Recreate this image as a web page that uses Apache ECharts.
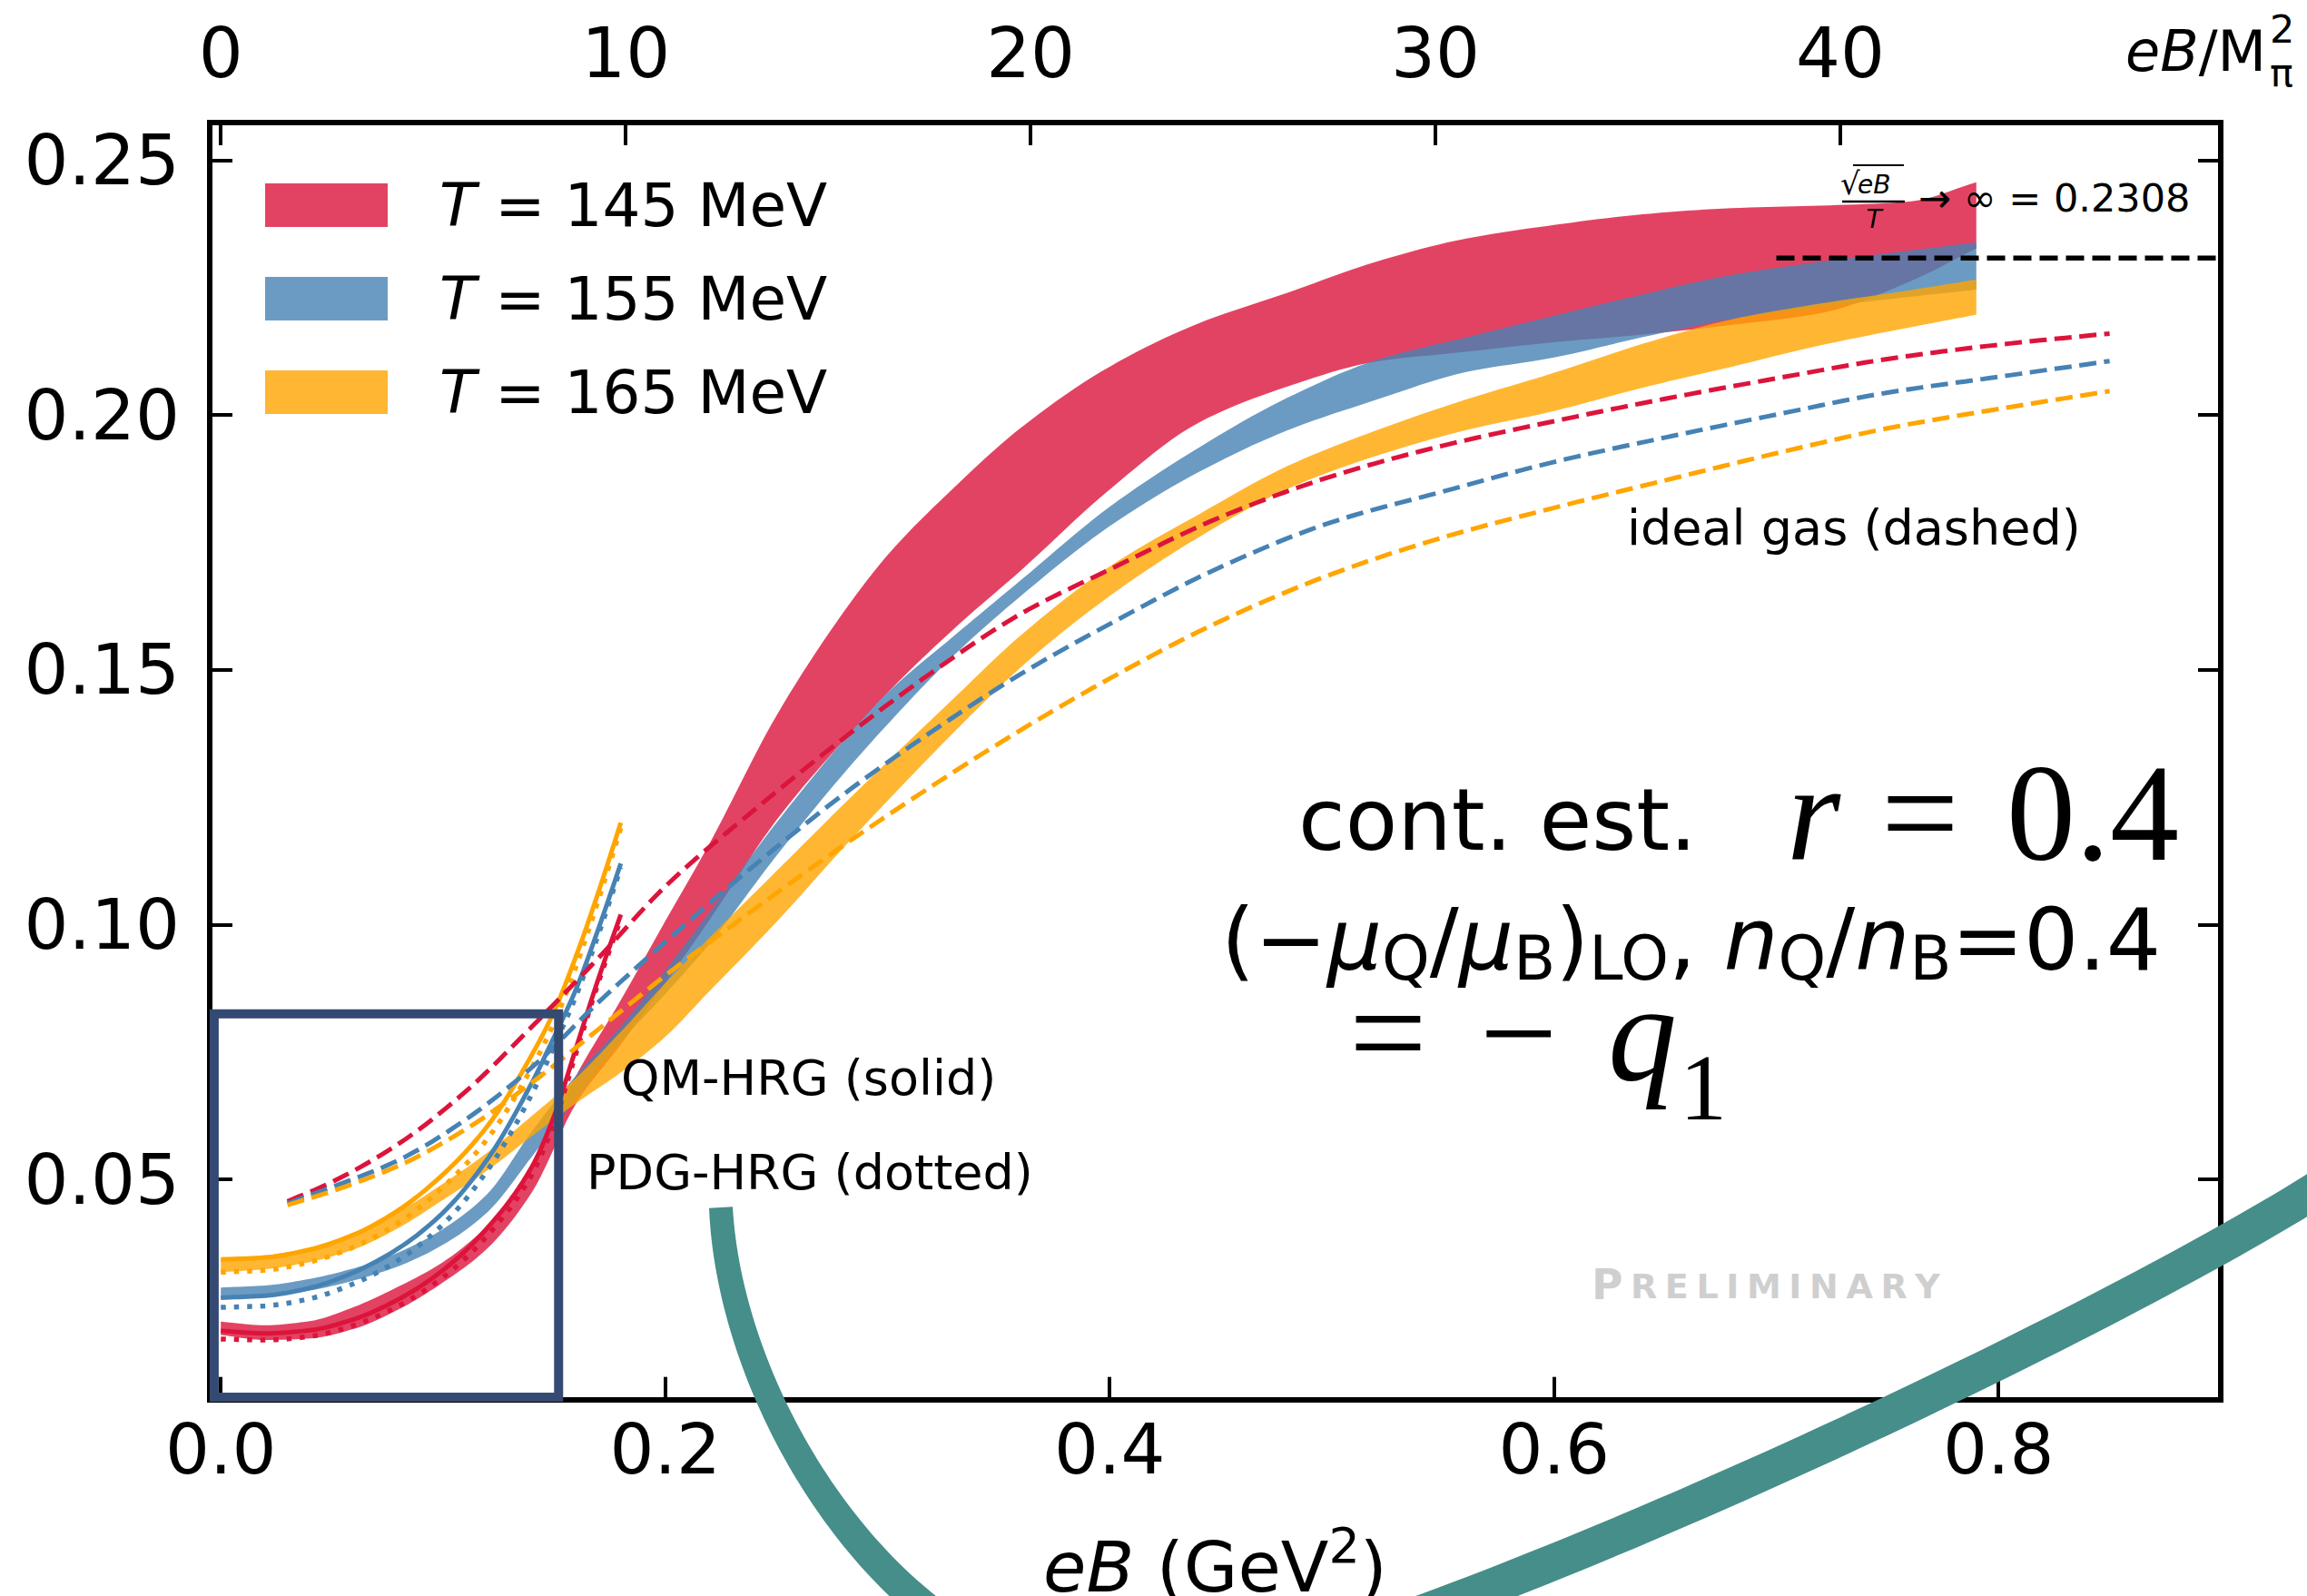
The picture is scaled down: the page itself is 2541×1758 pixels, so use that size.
<!DOCTYPE html>
<html>
<head>
<meta charset="utf-8">
<title>-q1 continuum estimate vs eB</title>
<script src="https://cdn.jsdelivr.net/npm/echarts@6.0.0/dist/echarts.min.js"></script>
<style>
  html, body { margin: 0; padding: 0; background: #ffffff; }
  #chart { width: 2541px; height: 1758px; }
</style>
</head>
<body>
<div id="chart"></div>
<script>
// ---------- lattice continuum-estimate bands: eB (GeV^2) grid, lower / upper edge ----------
const bandEB    = [0, 0.02, 0.04, 0.06, 0.08, 0.10, 0.12, 0.14, 0.16, 0.18, 0.20, 0.22, 0.25, 0.28, 0.30, 0.33, 0.36, 0.40, 0.44, 0.48, 0.52, 0.56, 0.60, 0.64, 0.68, 0.72, 0.76, 0.79];
const band145Lo = [0.0195, 0.0185, 0.0188, 0.0207, 0.0245, 0.0298, 0.0365, 0.0475, 0.0650, 0.0765, 0.0885, 0.1010, 0.1205, 0.1360, 0.1455, 0.1581, 0.1695, 0.1854, 0.1985, 0.2056, 0.2105, 0.2124, 0.2143, 0.2158, 0.2177, 0.2200, 0.2262, 0.2327];
const band145Hi = [0.0221, 0.0214, 0.0222, 0.0250, 0.0290, 0.0338, 0.0410, 0.0525, 0.0705, 0.0852, 0.1007, 0.1160, 0.1410, 0.1612, 0.1725, 0.1858, 0.1975, 0.2095, 0.2180, 0.2240, 0.2301, 0.2346, 0.2373, 0.2394, 0.2406, 0.2411, 0.2419, 0.2457];
const band155Lo = [0.0267, 0.0270, 0.0282, 0.0302, 0.0330, 0.0372, 0.0436, 0.0545, 0.0660, 0.0770, 0.0864, 0.0963, 0.1135, 0.1295, 0.1393, 0.1529, 0.1645, 0.1782, 0.1888, 0.1970, 0.2030, 0.2084, 0.2113, 0.2153, 0.2188, 0.2212, 0.2232, 0.2246];
const band155Hi = [0.0288, 0.0292, 0.0305, 0.0326, 0.0357, 0.0403, 0.0472, 0.0595, 0.0705, 0.0800, 0.0910, 0.1025, 0.1200, 0.1360, 0.1455, 0.1567, 0.1676, 0.1820, 0.1936, 0.2034, 0.2108, 0.2152, 0.2195, 0.2237, 0.2275, 0.2301, 0.2323, 0.2339];
const band165Lo = [0.0318, 0.0324, 0.0338, 0.0363, 0.0405, 0.0460, 0.0518, 0.0585, 0.0650, 0.0710, 0.0780, 0.0870, 0.1005, 0.1150, 0.1243, 0.1378, 0.1505, 0.1645, 0.1760, 0.1855, 0.1920, 0.1970, 0.2008, 0.2054, 0.2095, 0.2137, 0.2172, 0.2197];
const band165Hi = [0.0344, 0.0351, 0.0367, 0.0396, 0.0437, 0.0492, 0.0553, 0.0625, 0.0700, 0.0790, 0.0885, 0.0975, 0.1105, 0.1235, 0.1320, 0.1445, 0.1568, 0.1703, 0.1805, 0.1900, 0.1970, 0.2030, 0.2083, 0.2140, 0.2188, 0.2219, 0.2245, 0.2266];

// ---------- hadron resonance gas: QM-HRG (solid) and PDG-HRG (dotted) ----------
const hrgEB     = [0, 0.02, 0.04, 0.06, 0.08, 0.10, 0.12, 0.14, 0.15, 0.16, 0.17, 0.18];
const qmHrg145  = [0.0203, 0.0198, 0.0204, 0.0226, 0.0265, 0.0322, 0.0405, 0.0525, 0.0625, 0.0760, 0.0895, 0.1020];
const pdgHrg145 = [0.0187, 0.0185, 0.0192, 0.0214, 0.0252, 0.0308, 0.0390, 0.0510, 0.0612, 0.0750, 0.0888, 0.1012];
const qmHrg155  = [0.0268, 0.0272, 0.0287, 0.0318, 0.0365, 0.0435, 0.0540, 0.0690, 0.0780, 0.0875, 0.0993, 0.1120];
const pdgHrg155 = [0.0249, 0.0252, 0.0266, 0.0296, 0.0342, 0.0412, 0.0518, 0.0668, 0.0762, 0.0862, 0.0982, 0.1112];
const qmHrg165  = [0.0343, 0.0347, 0.0362, 0.0392, 0.0440, 0.0510, 0.0605, 0.0745, 0.0830, 0.0940, 0.1065, 0.1200];
const pdgHrg165 = [0.0318, 0.0322, 0.0338, 0.0368, 0.0415, 0.0485, 0.0580, 0.0720, 0.0808, 0.0920, 0.1050, 0.1190];

// ---------- ideal gas (dashed) ----------
const idealEB  = [0.03, 0.05, 0.08, 0.11, 0.14, 0.17, 0.20, 0.24, 0.28, 0.32, 0.36, 0.40, 0.45, 0.50, 0.55, 0.60, 0.65, 0.70, 0.75, 0.80, 0.85];
const ideal145 = [0.0457, 0.0495, 0.0570, 0.0672, 0.0800, 0.0935, 0.1075, 0.1225, 0.1365, 0.1495, 0.1610, 0.1697, 0.1800, 0.1880, 0.1940, 0.1988, 0.2032, 0.2072, 0.2110, 0.2138, 0.2160];
const ideal155 = [0.0453, 0.0485, 0.0538, 0.0617, 0.0720, 0.0848, 0.0966, 0.1116, 0.1255, 0.1379, 0.1492, 0.1590, 0.1702, 0.1790, 0.1850, 0.1908, 0.1956, 0.2001, 0.2044, 0.2075, 0.2106];
const ideal165 = [0.0450, 0.0477, 0.0527, 0.0598, 0.0690, 0.0795, 0.0900, 0.1030, 0.1155, 0.1272, 0.1382, 0.1483, 0.1596, 0.1688, 0.1760, 0.1818, 0.1872, 0.1925, 0.1974, 0.2012, 0.2047];

// ---------- sqrt(eB)/T -> infinity limit ----------
const asymptoteValue = 0.2308;
const asymptoteEB = [0.70, 0.90];

// ---------- axes ----------
const eBTicks    = [0, 0.2, 0.4, 0.6, 0.8];
const ratioTicks = [0, 10, 20, 30, 40];
const q1Ticks    = [0.05, 0.10, 0.15, 0.20, 0.25];
const eBRange    = [-0.005, 0.9];
const q1Range    = [0.0068, 0.2574];
const mPi2       = 0.01822;           // GeV^2, turns eB into eB / M_pi^2

// ---------- outline of the low-field region (data coordinates) ----------
const zoomBoxEB = [-0.003, 0.152];
const zoomBoxQ1 = [0.0073, 0.0825];

// ---------- hand-drawn pointer stroke: two cubic Bezier pieces in page pixels ----------
const pointerBeziers = [
  [[794, 1330], [805, 1560], [1000, 1860], [1250, 1860]],
  [[1250, 1860], [1460, 1860], [2264, 1492], [2560, 1305]]
];

const FONT = 'DejaVu Sans';
const SERIF = 'Liberation Serif';
const C145 = '#dc143c', C155 = '#4682b4', C165 = '#ffa500';
const N145 = 'T = 145 MeV', N155 = 'T = 155 MeV', N165 = 'T = 165 MeV';

// monotone cubic (PCHIP) through pixel points with increasing x
function monotone(pts, steps) {
  const n = pts.length;
  if (n < 3) return pts.map(p => p.slice());
  const x = pts.map(p => p[0]), y = pts.map(p => p[1]);
  const h = [], d = [];
  for (let i = 0; i < n - 1; i++) { h.push(x[i + 1] - x[i]); d.push((y[i + 1] - y[i]) / h[i]); }
  const m = new Array(n);
  m[0] = d[0]; m[n - 1] = d[n - 2];
  for (let i = 1; i < n - 1; i++) {
    if (d[i - 1] * d[i] <= 0) { m[i] = 0; continue; }
    const w1 = 2 * h[i] + h[i - 1], w2 = h[i] + 2 * h[i - 1];
    m[i] = (w1 + w2) / (w1 / d[i - 1] + w2 / d[i]);
  }
  const out = [];
  for (let i = 0; i < n - 1; i++) {
    for (let s = 0; s < steps; s++) {
      const t = s / steps, t2 = t * t, t3 = t2 * t;
      const h00 = 2 * t3 - 3 * t2 + 1, h10 = t3 - 2 * t2 + t, h01 = -2 * t3 + 3 * t2, h11 = t3 - t2;
      out.push([x[i] + t * h[i], h00 * y[i] + h10 * h[i] * m[i] + h01 * y[i + 1] + h11 * h[i] * m[i + 1]]);
    }
  }
  out.push([x[n - 1], y[n - 1]]);
  return out;
}

function bandSeries(name, lo, hi, color) {
  return {
    type: 'custom', name, xAxisIndex: 0, yAxisIndex: 0, z: 2, silent: true, clip: true,
    data: bandEB.map((x, i) => [x, lo[i], hi[i]]),
    encode: { x: 0, y: [1, 2] },
    itemStyle: { color },
    renderItem(params, api) {
      if (params.dataIndex !== 0) return null;
      const top = monotone(bandEB.map((x, i) => api.coord([x, hi[i]])), 10);
      const bottom = monotone(bandEB.map((x, i) => api.coord([x, lo[i]])), 10).reverse();
      return { type: 'polygon', shape: { points: top.concat(bottom) }, style: { fill: color, opacity: 0.8 } };
    }
  };
}

const dashOf = { solid: null, dotted: [5.5, 9], dashed: [19, 8.5] };
const widthOf = { solid: 5, dotted: 5.5, dashed: 5 };
function curve(name, xs, ys, color, kind) {
  return {
    type: 'custom', name, xAxisIndex: 0, yAxisIndex: 0, z: 3, silent: true, clip: true,
    data: xs.map((x, i) => [x, ys[i]]),
    encode: { x: 0, y: 1 },
    itemStyle: { color },
    renderItem(params, api) {
      if (params.dataIndex !== 0) return null;
      const pts = monotone(xs.map((x, i) => api.coord([x, ys[i]])), 10);
      return { type: 'polyline', shape: { points: pts },
               style: { stroke: color, lineWidth: widthOf[kind], lineDash: dashOf[kind], lineCap: 'butt', fill: null } };
    }
  };
}

// text placed by its left edge and alphabetic baseline
function label(text, left, baseline, size, opts) {
  const o = opts || {};
  return {
    type: 'text', x: left, y: baseline - 0.34 * size, z: 20, silent: true,
    style: {
      text, fontSize: size, fontFamily: o.family || FONT, fontStyle: o.italic ? 'italic' : 'normal',
      fontWeight: o.weight || 'normal', fill: o.color || '#000', align: o.align || 'left',
      verticalAlign: 'middle', rich: o.rich
    }
  };
}

function pointerStroke() {
  const c = [];
  pointerBeziers.forEach((b, k) => {
    const N = 80;
    for (let s = (k === 0 ? 0 : 1); s <= N; s++) {
      const t = s / N, u = 1 - t;
      const w = [u * u * u, 3 * u * u * t, 3 * u * t * t, t * t * t];
      c.push([0, 1].map(j => w[0] * b[0][j] + w[1] * b[1][j] + w[2] * b[2][j] + w[3] * b[3][j]));
    }
  });
  const len = [0];
  for (let i = 1; i < c.length; i++) len.push(len[i - 1] + Math.hypot(c[i][0] - c[i - 1][0], c[i][1] - c[i - 1][1]));
  const total = len[len.length - 1];
  const left = [], right = [];
  for (let i = 0; i < c.length; i++) {
    const a = c[Math.max(i - 1, 0)], b = c[Math.min(i + 1, c.length - 1)];
    const dx = b[0] - a[0], dy = b[1] - a[1], d = Math.hypot(dx, dy) || 1;
    const nx = -dy / d, ny = dx / d;
    const w = 26 + 14 * Math.min(1, len[i] / total / 0.4);
    left.push([c[i][0] + nx * w / 2, c[i][1] + ny * w / 2]);
    right.push([c[i][0] - nx * w / 2, c[i][1] - ny * w / 2]);
  }
  return { type: 'polygon', z: 100, silent: true, shape: { points: left.concat(right.reverse()) }, style: { fill: '#458e89' } };
}

const subPad = [43, 0, 0, 0];
const ratioRich = {
  n: { fontSize: 95, fontFamily: FONT, fill: '#000', verticalAlign: 'middle' },
  m: { fontSize: 95, fontFamily: FONT, fontStyle: 'italic', fill: '#000', verticalAlign: 'middle' },
  s: { fontSize: 67, fontFamily: FONT, fill: '#000', padding: subPad, verticalAlign: 'middle' }
};

const prelimText = '{b|P}' + 'RELIMINARY'.split('').map(ch => '{g| }{c|' + ch + '}').join('');
const prelimRich = {
  b: { fontSize: 47, fontFamily: FONT, fontWeight: 'bold', fill: '#cfcfcf', verticalAlign: 'middle' },
  c: { fontSize: 38, fontFamily: FONT, fontWeight: 'bold', fill: '#cfcfcf', padding: [6, 0, 0, 0], verticalAlign: 'middle' },
  g: { fontSize: 27, fontFamily: FONT, fill: '#cfcfcf', verticalAlign: 'middle' }
};

const graphics = [
  label('QM-HRG (solid)', 684, 1206, 54),
  label('PDG-HRG (dotted)', 646, 1310, 54),
  label('ideal gas (dashed)', 1792, 600, 54),
  label('cont. est.', 1430, 935, 94),
  label('r', 1968, 948, 152, { family: SERIF, italic: true }),
  label('=', 2072, 948, 152, { family: SERIF }),
  label('0.4', 2210, 948, 152, { family: SERIF }),
  label('{n|(−}{m|μ}{s|Q}{n|/}{m|μ}{s|B}{n|)}{s|LO}{n|, }{m|n}{s|Q}{n|/}{m|n}{s|B}{n|=0.4}', 1345, 1067, 95, { rich: ratioRich }),
  label('=', 1486, 1190, 152, { family: SERIF }),
  label('−', 1630, 1190, 152, { family: SERIF }),
  label('q', 1771, 1190, 152, { family: SERIF, italic: true }),
  label('1', 1850, 1233, 104, { family: SERIF }),
  label(prelimText, 1753, 1430, 47, { rich: prelimRich }),
  // sqrt(eB)/T -> infinity = 0.2308
  label('√', 2027, 214, 34),
  { type: 'line', z: 20, silent: true, shape: { x1: 2041, y1: 182, x2: 2097, y2: 182 }, style: { stroke: '#000', lineWidth: 2.2 } },
  label('eB', 2046, 213, 28, { italic: true }),
  { type: 'line', z: 20, silent: true, shape: { x1: 2029, y1: 222, x2: 2098, y2: 222 }, style: { stroke: '#000', lineWidth: 2.5 } },
  label('T', 2064, 251, 28, { italic: true, align: 'center' }),
  label('→ ∞ = 0.2308', 2113, 233, 43),
  // top axis title eB / M_pi^2
  label('{i|eB}{n|/M}', 2341, 78, 62, { rich: {
    i: { fontSize: 62, fontFamily: FONT, fontStyle: 'italic', fill: '#000' },
    n: { fontSize: 62, fontFamily: FONT, fill: '#000' } } }),
  label('2', 2500, 47, 43),
  label('π', 2500, 95, 43),
  pointerStroke()
];

const axisLineStyle = { show: true, onZero: false, lineStyle: { color: '#000', width: 6, cap: 'square' } };
function tickStyle(values) {
  return { show: true, inside: true, length: 25, customValues: values, lineStyle: { color: '#000', width: 4 } };
}
const tickFont = { fontSize: 77, fontFamily: FONT, color: '#000' };

const option = {
  animation: false,
  backgroundColor: '#ffffff',
  textStyle: { fontFamily: FONT },
  grid: { left: 231, right: 95, top: 135, bottom: 216.3, containLabel: false, outerBoundsMode: 'none' },
  legend: {
    orient: 'vertical', left: 292, top: 193, padding: 0,
    itemWidth: 135, itemHeight: 48, itemGap: 37, icon: 'rect', selectedMode: false,
    data: [
      { name: N145, icon: 'rect', itemStyle: { color: '#e34363', borderWidth: 0 } },
      { name: N155, icon: 'rect', itemStyle: { color: '#6b9bc3', borderWidth: 0 } },
      { name: N165, icon: 'rect', itemStyle: { color: '#ffb733', borderWidth: 0 } }
    ],
    formatter: name => '{t|T}{r|' + name.slice(1) + '}',
    textStyle: {
      fontSize: 66, fontFamily: FONT, color: '#000', lineHeight: 48,
      rich: {
        t: { fontSize: 66, fontFamily: FONT, fontStyle: 'italic', color: '#000', padding: [0, 0, 0, 52], lineHeight: 48 },
        r: { fontSize: 66, fontFamily: FONT, color: '#000', lineHeight: 48 }
      }
    }
  },
  xAxis: [
    {
      type: 'value', position: 'bottom', min: eBRange[0], max: eBRange[1],
      axisLine: axisLineStyle, axisTick: tickStyle(eBTicks), splitLine: { show: false },
      axisLabel: Object.assign({ customValues: eBTicks, margin: 16, formatter: v => v.toFixed(1) }, tickFont),
      name: '{i|eB}{n| (GeV}{s|2}{n|)}', nameLocation: 'middle', nameGap: 134,
      nameTextStyle: {
        fontSize: 77, fontFamily: FONT, color: '#000',
        rich: {
          i: { fontSize: 77, fontFamily: FONT, fontStyle: 'italic', color: '#000' },
          n: { fontSize: 77, fontFamily: FONT, color: '#000' },
          s: { fontSize: 54, fontFamily: FONT, color: '#000', padding: [0, 0, 47, 0] }
        }
      }
    },
    {
      type: 'value', position: 'top', min: eBRange[0] / mPi2, max: eBRange[1] / mPi2,
      axisLine: axisLineStyle, axisTick: tickStyle(ratioTicks), splitLine: { show: false },
      axisLabel: Object.assign({ customValues: ratioTicks, margin: 38, formatter: v => String(Math.round(v)) }, tickFont)
    }
  ],
  yAxis: [
    {
      type: 'value', position: 'left', min: q1Range[0], max: q1Range[1],
      axisLine: axisLineStyle, axisTick: tickStyle(q1Ticks), splitLine: { show: false },
      axisLabel: Object.assign({ customValues: q1Ticks, margin: 33, formatter: v => v.toFixed(2) }, tickFont)
    },
    {
      type: 'value', position: 'right', min: q1Range[0], max: q1Range[1],
      axisLine: axisLineStyle, axisTick: tickStyle(q1Ticks), splitLine: { show: false },
      axisLabel: { show: false }
    }
  ],
  series: [
    bandSeries(N145, band145Lo, band145Hi, C145),
    bandSeries(N155, band155Lo, band155Hi, C155),
    bandSeries(N165, band165Lo, band165Hi, C165),
    curve('QM-HRG 145', hrgEB, qmHrg145, C145, 'solid'),
    curve('PDG-HRG 145', hrgEB, pdgHrg145, C145, 'dotted'),
    curve('QM-HRG 155', hrgEB, qmHrg155, C155, 'solid'),
    curve('PDG-HRG 155', hrgEB, pdgHrg155, C155, 'dotted'),
    curve('QM-HRG 165', hrgEB, qmHrg165, C165, 'solid'),
    curve('PDG-HRG 165', hrgEB, pdgHrg165, C165, 'dotted'),
    curve('ideal gas 145', idealEB, ideal145, C145, 'dashed'),
    curve('ideal gas 155', idealEB, ideal155, C155, 'dashed'),
    curve('ideal gas 165', idealEB, ideal165, C165, 'dashed'),
    {
      type: 'line', name: 'limit', xAxisIndex: 0, yAxisIndex: 0, z: 4, silent: true, symbol: 'none',
      data: asymptoteEB.map(x => [x, asymptoteValue]),
      lineStyle: { color: '#000', width: 5.5, type: [20, 9], cap: 'butt' }
    },
    {
      type: 'custom', name: 'low-field region', xAxisIndex: 0, yAxisIndex: 0, z: 6, silent: true, clip: false,
      data: [[zoomBoxEB[0], zoomBoxQ1[0], zoomBoxEB[1], zoomBoxQ1[1]]],
      encode: { x: [0, 2], y: [1, 3] },
      renderItem(params, api) {
        const a = api.coord([api.value(0), api.value(3)]);
        const b = api.coord([api.value(2), api.value(1)]);
        return { type: 'rect', shape: { x: a[0], y: a[1], width: b[0] - a[0], height: b[1] - a[1] },
                 style: { fill: 'none', stroke: '#344a72', lineWidth: 10 } };
      }
    }
  ],
  graphic: { elements: graphics }
};

const chart = echarts.init(document.getElementById('chart'), null, { renderer: 'svg', width: 2541, height: 1758 });
chart.setOption(option);
</script>
</body>
</html>
